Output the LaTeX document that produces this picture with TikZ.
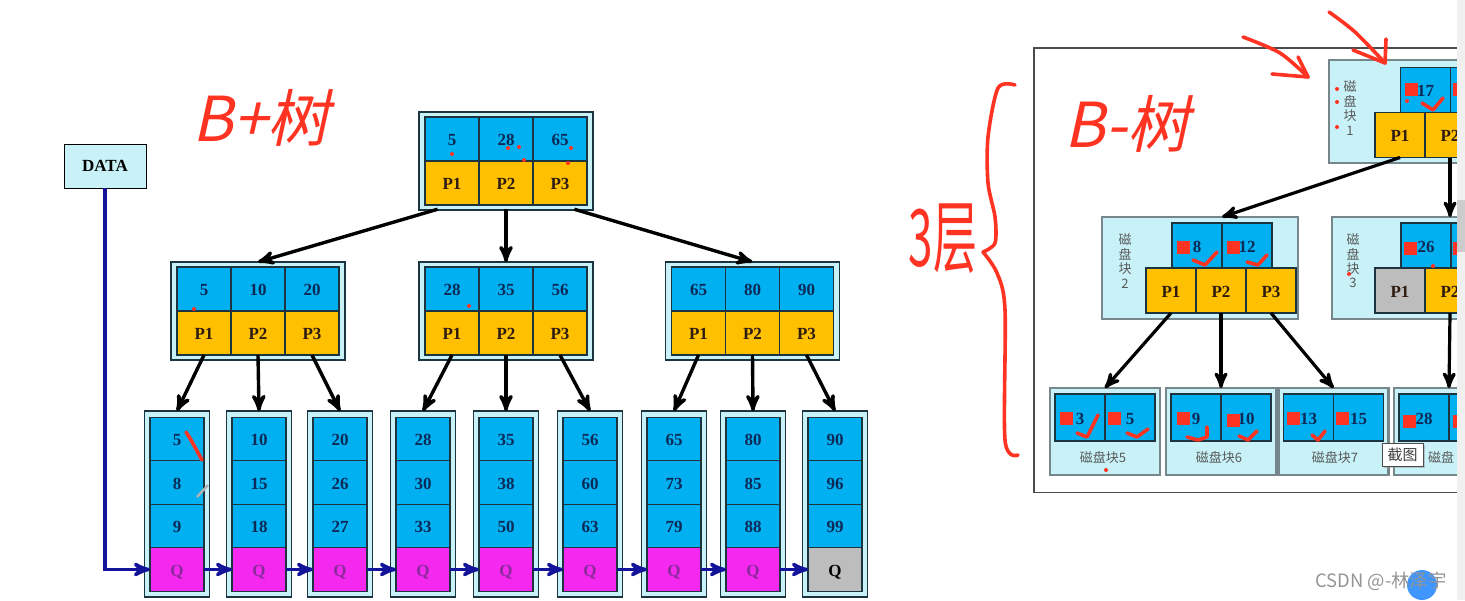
\documentclass[tikz,border=0pt]{standalone}
\usepackage{fontspec}
\setmainfont{Liberation Serif}
\newfontfamily\cjk{Noto Sans CJK SC}
\newfontfamily\cjkhand[FakeSlant=0.22]{Noto Sans CJK SC}
\usetikzlibrary{arrows,shadows}
\definecolor{keyblue}{HTML}{00B0F0}
\definecolor{keytext}{HTML}{0B2A58}
\definecolor{ptryellow}{HTML}{FFC000}
\definecolor{ptrtext}{HTML}{2E1C10}
\definecolor{linkpink}{HTML}{F528F0}
\definecolor{qtext}{HTML}{8A2A9A}
\definecolor{endgray}{HTML}{BDBDBD}
\definecolor{palecyan}{HTML}{C8F2F8}
\definecolor{handred}{HTML}{FF3322}
\definecolor{linknavy}{HTML}{14149A}
\definecolor{edgedark}{HTML}{1C3440}
\definecolor{diskgray}{HTML}{76868A}

\begin{document}
\begin{tikzpicture}[x=0.5pt,y=-0.5pt,>=stealth',font=\bfseries\fontsize{8.5}{10}\selectfont,node distance=27pt]
  \tikzstyle{outerbox}=[draw=edgedark,fill=palecyan,line width=0.6pt,inner sep=0pt,outer sep=0pt]
  \tikzstyle{diskbox}=[draw=diskgray,fill=palecyan,line width=1.1pt,inner sep=0pt,outer sep=0pt]
  \tikzstyle{keycell}=[draw=edgedark,fill=keyblue,text=keytext,line width=0.6pt,minimum width=27pt,minimum height=22pt,inner sep=0pt,outer sep=0pt,text height=6.7pt,text depth=0pt]
  \tikzstyle{ptrcell}=[keycell,fill=ptryellow,text=ptrtext]
  \tikzstyle{leafkey}=[keycell,minimum height=21.75pt]
  \tikzstyle{linkq}=[keycell,minimum height=21.75pt,fill=linkpink,text=qtext]
  \tikzstyle{endq}=[keycell,minimum height=21.75pt,fill=endgray,text=black]
  \tikzstyle{bkey}=[keycell,minimum width=25pt,minimum height=22.5pt]
  \tikzstyle{bptr}=[ptrcell,minimum width=25pt,minimum height=22.5pt]
  \tikzstyle{disktext}=[font=\cjk\fontsize{6.5}{7.2}\selectfont,text=black!65,align=center,inner sep=0pt]
  \tikzstyle{hand}=[draw=handred,line width=1.8pt,line cap=round,line join=round]
  \tikzstyle{handtext}=[text=handred,font=\cjkhand\fontsize{31}{33}\selectfont,inner sep=0pt]
  \useasboundingbox (0,0) rectangle (1465,600);

  % B+ tree
  \node[draw=black,fill=palecyan,minimum width=41pt,minimum height=22pt,inner sep=0pt] (data) at (105,166) {DATA};
  \foreach \nm/\x/\y/\ka/\kb/\kc in {root/506/161/5/28/65,ml/258/311/5/10/20,mm/506/311/28/35/56,mr/752.5/311/65/80/90}{
    \node[outerbox,minimum width=87pt,minimum height=49pt] (\nm) at (\x,\y) {};
    \node[keycell] (\nm-k2) at (\x,\y-22) {\kb};
    \node[keycell] (\nm-k1) [left of=\nm-k2] {\ka};
    \node[keycell] (\nm-k3) [right of=\nm-k2] {\kc};
    \node[ptrcell] (\nm-p2) at (\x,\y+22) {P2};
    \node[ptrcell] (\nm-p1) [left of=\nm-p2] {P1};
    \node[ptrcell] (\nm-p3) [right of=\nm-p2] {P3};
  }
  \foreach \nm/\x/\ka/\kb/\kc/\qs in {l1/177/5/8/9/linkq,l2/259/10/15/18/linkq,l3/340/20/26/27/linkq,l4/423/28/30/33/linkq,l5/506/35/38/50/linkq,l6/590/56/60/63/linkq,l7/674/65/73/79/linkq,l8/753/80/85/88/linkq,l9/835/90/96/99/endq}{
    \node[outerbox,minimum width=32.5pt,minimum height=93pt] (\nm) at (\x,504) {};
    \node[leafkey] (\nm-a) at (\x,439) {\ka};
    \node[leafkey] (\nm-b) at (\x,482.5) {\kb};
    \node[leafkey] (\nm-c) at (\x,526) {\kc};
    \node[\qs] (\nm-q) at (\x,569.5) {Q};
  }
  \path[->,line width=1.7pt]
    (root-p1.south) edge[shorten <=7.5pt] (ml.north)
    (root-p2.south) edge[shorten <=2pt] (mm.north)
    (root-p3.south) edge[shorten <=7.5pt] (mr.north)
    (ml-p1.south) edge (l1.north)
    (ml-p2.south) edge (l2.north)
    (ml-p3.south) edge (l3.north)
    (mm-p1.south) edge (l4.north)
    (mm-p2.south) edge (l5.north)
    (mm-p3.south) edge (l6.north)
    (mr-p1.south) edge (l7.north)
    (mr-p2.south) edge (l8.north)
    (mr-p3.south) edge (l9.north);
  \draw[->,linknavy,line width=1.7pt] (data.south) |- (l1-q.west);
  \foreach \i/\j in {1/2,2/3,3/4,4/5,5/6,6/7,7/8,8/9}
    \draw[->,linknavy,line width=1.7pt] (l\i-q.east) -- (l\j-q.west);

  % B- tree, cut off by the scroll bar
  \begin{scope}
    \clip (1030,40) rectangle (1457,500);
    \draw[black!70,line width=0.7pt] (1034,48) rectangle (1500,492.5);
    \node[diskbox,minimum width=98pt,minimum height=51.5pt] (dr) at (1427,111.5) {};
    \node[disktext] (dr-lab) at (1350,108) {磁\\盘\\块\\1};
    \node[bkey] (dr-k1) at (1425.5,90) {17};
    \node[bkey] (dr-k2) at (1475.5,90) {};
    \node[bptr] (dr-p1) at (1400,135) {P1};
    \node[bptr] (dr-p2) at (1450,135) {P2};

    \node[diskbox,minimum width=98pt,minimum height=51pt] (dl) at (1200,268) {};
    \node[disktext] (dl-lab) at (1125,261) {磁\\盘\\块\\2};
    \node[bkey] (dl-k1) at (1197,245.5) {8};
    \node[bkey] (dl-k2) at (1247,245.5) {12};
    \node[bptr] (dl-p1) at (1171,290.5) {P1};
    \node[bptr] (dl-p2) at (1221,290.5) {P2};
    \node[bptr] (dl-p3) at (1271,290.5) {P3};

    \node[diskbox,minimum width=98pt,minimum height=51pt] (dm) at (1430,268) {};
    \node[disktext] (dm-lab) at (1353,261) {磁\\盘\\块\\3};
    \node[bkey] (dm-k1) at (1426,245.5) {26};
    \node[bkey] (dm-k2) at (1476,245.5) {};
    \node[bptr,fill=endgray] (dm-p1) at (1400,290.5) {P1};
    \node[bptr] (dm-p2) at (1450,290.5) {P2};

    \foreach \nm/\x/\ka/\kb/\lx/\lab in {d5/1105/3/5/1103/磁盘块5,d6/1221/9/10/1219/磁盘块6,d7/1333.5/13/15/1335/磁盘块7,d8/1449/28//1441/磁盘}{
      \node[diskbox,minimum width=55pt,minimum height=43.5pt] (\nm) at (\x,431.5) {};
      \node[bkey,minimum height=23.5pt] (\nm-k1) at (\x-25,417.5) {\ka};
      \node[bkey,minimum height=23.5pt] (\nm-k2) at (\x+25,417.5) {\kb};
      \node[disktext] (\nm-lab) at (\lx,457.5) {\lab};
    }
    \foreach \x/\y in {1405/83,1453/83,1177/241,1227/241,1404/242,1453/242,1060/412,1108/412,1177/412,1227/414,1287/412,1336/412,1403/415,1453/415}
      \fill[handred] (\x,\y) rectangle ++(13,13);
    \path[->,line width=1.6pt]
      (dr-p1.south) edge (dl.north -| dl-k1.east)
      (dr-p2.south) edge (dm.north -| dm-p2)
      (dl-p1.south) edge (d5.north)
      (dl-p2.south) edge (d6.north)
      (dl-p3.south) edge (d7.north)
      (dm-p2.south) edge (d8.north);
  \end{scope}

  % scroll bar
  \fill[black!6] (1457,0) rectangle (1465,600);
  \fill[black!20] (1457,200) rectangle (1465,252);

  % pen marks
  \node[handtext] (bplus) at (261,118) {B+树};
  \node[handtext] (bminus) at (1127,124) {B-树};
  \node[handtext,yscale=1.8,font=\cjk\fontsize{22}{24}\selectfont] (layers) at (943,239) {3层};
  \draw[hand] plot[smooth] coordinates {(1015,85) (998,88) (988,137) (988,183) (995,217) (995,243) (983,252)};
  \draw[hand] plot[smooth] coordinates {(983,252) (997,273) (1005,310) (1005,440) (1018,455)};
  \draw[hand] plot[smooth] coordinates {(1243,37) (1280,53) (1308,77)};
  \draw[hand] (1298,57) -- (1308,77) -- (1272,74);
  \draw[hand] plot[smooth] coordinates {(1329,12) (1355,32) (1385,63)};
  \draw[hand] (1386,39) -- (1385,63) -- (1353,50);
  \draw[hand] (1422,103) -- (1433,110) -- (1443,98);
  \draw[hand] (1193,260) -- (1205,265) -- (1217,252);
  \draw[hand] (1247,262) -- (1258,265) -- (1267,255);
  \draw[hand] (1077,433) -- (1087,437) -- (1098,415);
  \draw[hand] (1127,433) -- (1137,437) -- (1148,429);
  \draw[hand] (1187,437) -- (1198,440) -- (1207,437) -- (1207,427);
  \draw[hand] (1239,436) -- (1248,440) -- (1257,431);
  \draw[hand] (1312,435) -- (1318,440) -- (1325,431);
  \draw[hand] (186,432) -- (191,440) -- (202,460);
  \draw[black!30,line width=1.2pt] (197,497) -- (208,485);
  \foreach \x/\y in {452/154,508/148,519/147,524/160,571/148,568/163,194/309,469/306,1337/89,1337/102,1337/127,1407/101,1433/266,1349/274,1106/470}
    \fill[handred] (\x,\y) circle (1pt);

  % screen overlays
  \node[draw=black!70,fill=white,drop shadow={shadow xshift=1pt,shadow yshift=-1pt,fill=black!40},font=\cjk\fontsize{7.5}{9}\selectfont,text=black!75,minimum width=20.5pt,minimum height=11.5pt,inner sep=0pt] (shot) at (1402.5,454.5) {截图};
  \fill[blue!55!cyan!75] (1422,585) circle (15);
  \node[font=\cjk\fontsize{9.2}{11}\selectfont,text=black!42,inner sep=0pt] (mark) at (1381,581) {CSDN @-林泽宇};
\end{tikzpicture}
\end{document}
